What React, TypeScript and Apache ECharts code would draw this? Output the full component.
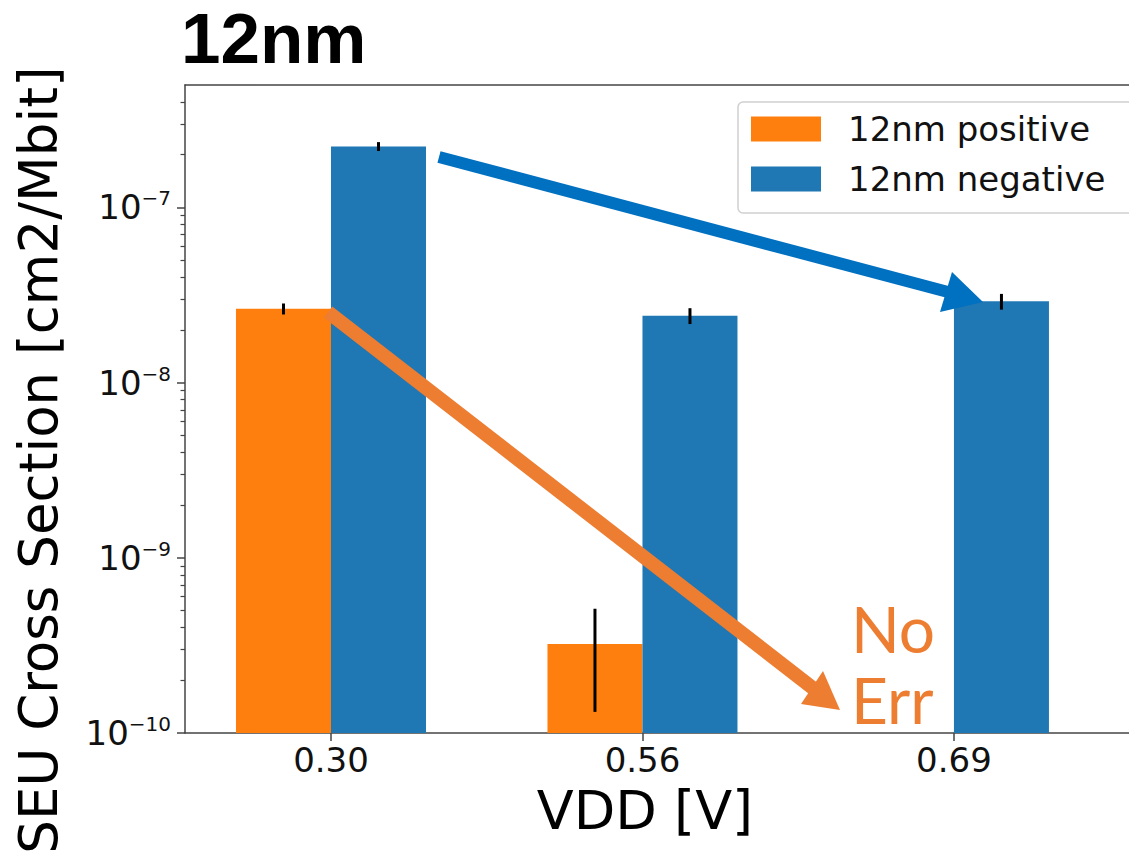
import React, { useEffect, useRef } from 'react';
import * as echarts from 'echarts';

// ---- data ----
const categories = ['0.30', '0.56', '0.69'];
const seriesNames = ['12nm positive', '12nm negative'];
const positiveValues: (number | null)[] = [2.64e-8, 3.22e-10, null];
const positiveErrors: (number | null)[] = [0.19e-8, 1.9e-10, null];
const negativeValues: (number | null)[] = [2.23e-7, 2.41e-8, 2.91e-8];
const negativeErrors: (number | null)[] = [0.13e-7, 0.25e-8, 0.3e-8];
const yMajorTicks = [1e-10, 1e-9, 1e-8, 1e-7];
const yMinorTicks = [
  2e-10, 3e-10, 4e-10, 5e-10, 6e-10, 7e-10, 8e-10, 9e-10,
  2e-9, 3e-9, 4e-9, 5e-9, 6e-9, 7e-9, 8e-9, 9e-9,
  2e-8, 3e-8, 4e-8, 5e-8, 6e-8, 7e-8, 8e-8, 9e-8,
  2e-7, 3e-7, 4e-7,
];
const xTickPositions = [0, 1, 2];
const yAxisTitle = 'SEU Cross Section [cm2/Mbit]';
const xAxisTitle = 'VDD [V]';
const chartTitle = '12nm';
const noErrNote = 'No\nErr';

// ---- layout / style constants ----
const Y_MIN = 1e-10;
const Y_MAX = 5e-7;
const X_MIN = -0.4687;
const X_MAX = 2.562;
const BAR_W = 0.305;
const ORANGE = '#ff7f0e';
const BLUE = '#1f77b4';
const AXIS_COLOR = '#444444';
const FONT = 'DejaVu Sans';

function makeBarSeries(name: string, values: (number | null)[], errors: (number | null)[], color: string, left: boolean) {
  const data: number[][] = [];
  values.forEach((v, i) => {
    if (v != null) data.push([i, v, errors[i] ?? 0]);
  });
  return {
    type: 'custom',
    name,
    xAxisIndex: 0,
    yAxisIndex: 0,
    itemStyle: { color },
    encode: { x: 0, y: 1 },
    clip: true,
    data,
    renderItem: (params: any, api: any) => {
      const x = api.value(0);
      const v = api.value(1);
      const e = api.value(2);
      const x0 = left ? x - BAR_W : x;
      const p1 = api.coord([x0, v]);
      const p2 = api.coord([x0 + BAR_W, Y_MIN]);
      const e1 = api.coord([x0 + BAR_W / 2, v + e]);
      const e2 = api.coord([x0 + BAR_W / 2, v - e]);
      return {
        type: 'group',
        children: [
          {
            type: 'rect',
            shape: { x: p1[0], y: p1[1], width: p2[0] - p1[0], height: p2[1] - p1[1] },
            style: { fill: color },
          },
          {
            type: 'line',
            shape: { x1: e1[0], y1: e1[1], x2: e2[0], y2: e2[1] },
            style: { stroke: '#000', lineWidth: 3 },
            z2: 10,
          },
        ],
      };
    },
  };
}

export default function App() {
  const ref = useRef<HTMLDivElement>(null);
  useEffect(() => {
    if (!ref.current) return;
    const chart = echarts.init(ref.current, null, { renderer: 'svg' });
    const axisLine = { show: true, onZero: false, lineStyle: { color: AXIS_COLOR, width: 1.5 } };
    chart.setOption({
      animation: false,
      backgroundColor: '#ffffff',
      textStyle: { fontFamily: FONT },
      title: {
        text: chartTitle,
        left: 181,
        top: 3,
        padding: 0,
        textStyle: { fontFamily: 'Liberation Sans', fontWeight: 'bold', fontSize: 71, color: '#000' },
      },
      grid: { left: 185, top: 85, right: 0, bottom: 129, containLabel: false, outerBoundsMode: 'none' },
      legend: {
        orient: 'vertical',
        left: 738,
        top: 102,
        padding: [10, 28, 17, 13],
        itemWidth: 70,
        itemHeight: 25,
        itemGap: 16,
        borderColor: '#d0d0d0',
        borderWidth: 1.5,
        borderRadius: 5,
        backgroundColor: '#ffffff',
        data: seriesNames.map((n) => ({ name: n, icon: 'rect' })),
        textStyle: { fontFamily: FONT, fontSize: 34, color: '#111', lineHeight: 34, padding: [0, 0, 0, 22] },
      },
      xAxis: [
        {
          type: 'value',
          min: X_MIN,
          max: X_MAX,
          position: 'bottom',
          axisLine,
          axisTick: { show: true, customValues: xTickPositions, length: 8, lineStyle: { color: AXIS_COLOR, width: 1.5 } },
          axisLabel: {
            customValues: xTickPositions,
            formatter: (v: number) => categories[Math.round(v)] ?? '',
            fontSize: 34,
            fontFamily: FONT,
            color: '#111',
            margin: 10,
          },
          splitLine: { show: false },
          name: xAxisTitle,
          nameLocation: 'middle',
          nameGap: 50,
          nameTextStyle: { fontSize: 54, color: '#000', fontFamily: FONT, padding: [0, 24, 0, 0] },
        },
        {
          type: 'value',
          min: X_MIN,
          max: X_MAX,
          position: 'top',
          axisLine,
          axisTick: { show: false },
          axisLabel: { show: false },
          splitLine: { show: false },
        },
      ],
      yAxis: [
        {
          type: 'log',
          logBase: 10,
          min: Y_MIN,
          max: Y_MAX,
          position: 'left',
          axisLine,
          axisTick: { show: true, customValues: yMajorTicks, length: 8, lineStyle: { color: AXIS_COLOR, width: 1.5 } },
          axisLabel: {
            customValues: yMajorTicks,
            margin: 14,
            formatter: (v: number) => {
              const e = Math.round(Math.log10(v));
              return `{b|10}{s|\u2212${-e}}`;
            },
            rich: {
              b: { fontSize: 34, fontFamily: FONT, color: '#111', lineHeight: 38 },
              s: { fontSize: 20, fontFamily: FONT, color: '#111', verticalAlign: 'top', lineHeight: 22 },
            },
          },
          splitLine: { show: false },
        },
        {
          type: 'log',
          logBase: 10,
          min: Y_MIN,
          max: Y_MAX,
          position: 'left',
          axisLine: { show: false, onZero: false },
          axisTick: { show: true, customValues: yMinorTicks, length: 4.5, lineStyle: { color: AXIS_COLOR, width: 1.2 } },
          axisLabel: { show: false },
          splitLine: { show: false },
        },
      ],
      series: [
        makeBarSeries(seriesNames[0], positiveValues, positiveErrors, ORANGE, true),
        makeBarSeries(seriesNames[1], negativeValues, negativeErrors, BLUE, false),
      ],
      graphic: [
        // y-axis title
        {
          type: 'text',
          z: 100,
          x: 38,
          y: 460,
          rotation: Math.PI / 2,
          style: {
            text: yAxisTitle,
            fill: '#000',
            fontFamily: FONT,
            fontSize: 53,
            align: 'center',
            verticalAlign: 'middle',
          },
        },
        // blue annotation arrow
        {
          type: 'line',
          z: 100,
          shape: { x1: 439, y1: 157, x2: 948, y2: 292 },
          style: { stroke: '#0070C0', lineWidth: 12 },
        },
        {
          type: 'polygon',
          z: 100,
          shape: { points: [[983, 302], [952, 272], [940, 312]] },
          style: { fill: '#0070C0' },
        },
        // orange annotation arrow
        {
          type: 'line',
          z: 100,
          shape: { x1: 328, y1: 312, x2: 814, y2: 689 },
          style: { stroke: '#ED7D31', lineWidth: 14 },
        },
        {
          type: 'polygon',
          z: 100,
          shape: { points: [[840, 710], [823, 671], [801, 704]] },
          style: { fill: '#ED7D31' },
        },
        {
          type: 'text',
          z: 100,
          x: 851,
          y: 664,
          style: {
            text: noErrNote,
            fill: '#ED7D31',
            fontFamily: 'Lato',
            fontSize: 64,
            lineHeight: 71,
            verticalAlign: 'middle',
            align: 'left',
          },
        },
      ],
    });
    return () => chart.dispose();
  }, []);
  return (
    <div
      ref={ref}
      style={{ position: 'absolute', left: 0, top: 0, width: 1129, height: 862, background: '#fff' }}
    />
  );
}
